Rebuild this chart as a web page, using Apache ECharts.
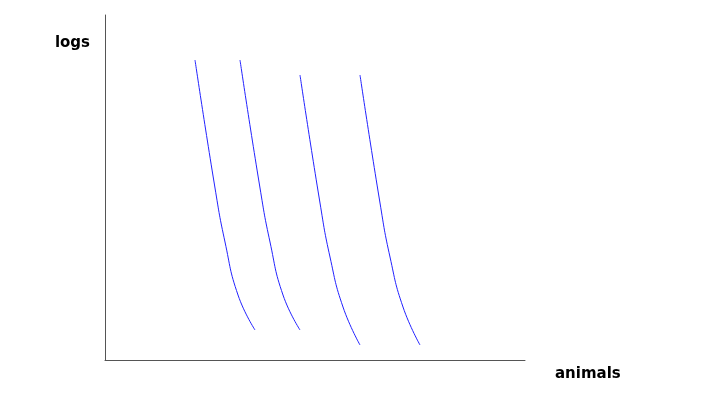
<!DOCTYPE html>
<html><head><meta charset="utf-8">
<script src="https://cdn.jsdelivr.net/npm/echarts@6/dist/echarts.min.js"></script>
<style>html,body{margin:0;padding:0;background:#fff}#c{width:720px;height:420px}</style>
</head><body><div id="c"></div>
<script>
const xName = 'animals';
const yName = 'logs';
const curve1X = [90, 110, 120, 133, 150];
const curve1Y = [300, 172, 118, 65, 30];
const curve2X = [135, 155, 165, 178, 195];
const curve2Y = [300, 172, 118, 65, 30];
const curve3X = [195, 215, 225, 238, 255];
const curve3Y = [285, 157, 103, 53, 15];
const curve4X = [255, 275, 285, 298, 315];
const curve4Y = [285, 157, 103, 53, 15];
const curves = [[curve1X, curve1Y], [curve2X, curve2Y], [curve3X, curve3Y], [curve4X, curve4Y]];

const chart = echarts.init(document.getElementById('c'), null, {renderer: 'canvas'});
const font = {fontFamily: 'DejaVu Sans', fontWeight: 'bold', fontSize: 15, color: '#000'};
chart.setOption({
  animation: false,
  grid: {left: 105, right: 195, top: 15, bottom: 60, containLabel: false},
  xAxis: {
    type: 'value', min: 0, max: 420,
    name: xName, nameLocation: 'end', nameGap: 30,
    nameTextStyle: Object.assign({align: 'left', verticalAlign: 'top', padding: [7, 0, 0, 0]}, font),
    axisLine: {lineStyle: {color: '#555', width: 1}},
    axisTick: {show: false}, axisLabel: {show: false}, splitLine: {show: false}
  },
  yAxis: {
    type: 'value', min: 0, max: 345,
    name: yName, nameLocation: 'end', nameGap: -28,
    nameTextStyle: Object.assign({align: 'right', verticalAlign: 'middle', padding: [0, 15, 0, 0]}, font),
    axisLine: {show: true, lineStyle: {color: '#555', width: 1}},
    axisTick: {show: false}, axisLabel: {show: false}, splitLine: {show: false}
  },
  series: curves.map(c => ({
    type: 'line', smooth: 0.5, symbol: 'none',
    lineStyle: {color: '#2222ff', width: 1},
    data: c[0].map((x, i) => [x, c[1][i]])
  }))
});
</script></body></html>
